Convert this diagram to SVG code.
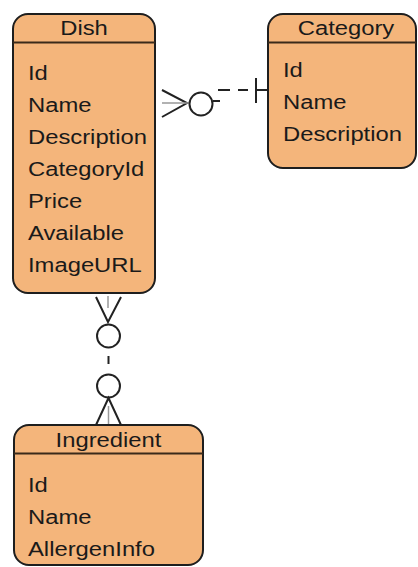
<svg xmlns="http://www.w3.org/2000/svg" width="418" height="567" viewBox="0 0 418 567">
  <style>
    .box { fill: #f4b57b; stroke: #1e1e1e; stroke-width: 2; }
    .sep { stroke: #3a2a1a; stroke-width: 2; }
    .t { font-family: "Liberation Sans", Arial, sans-serif; font-size: 20px; fill: #1a1a1a; }
    .title { text-anchor: middle; }
    .rel { fill: none; stroke: #222; stroke-width: 2; }
    .faint { fill: none; stroke: #999; stroke-width: 1.5; }
  </style>

  <!-- relationships -->
  <g id="connectors">
    <!-- Dish (many, optional) to Category (one) -->
    <path class="rel" d="M218,90 H230 M238,90 H248 M256,90 H268"/>
    <path class="rel" d="M256,78 V103"/>
    <path class="rel" d="M213,101 H220"/>
    <circle class="rel" cx="201" cy="104" r="11.5"/>
    <path class="rel" d="M162,90 L187,103 L162,117"/>
    <path class="faint" d="M162,103 H188"/>

    <!-- Dish (many, optional) to Ingredient (many, optional) -->
    <path class="rel" d="M96,297 L108,322 L121,297"/>
    <path class="faint" d="M108,296 V308"/>
    <circle class="rel" cx="108.5" cy="336" r="11.5"/>
    <path class="rel" d="M108.5,356 V364"/>
    <circle class="rel" cx="108.5" cy="386" r="11.5"/>
    <path class="rel" d="M96,425 L108.5,398 L121,425"/>
    <path class="faint" d="M108.5,406 V425"/>
  </g>

  <g id="dish">
    <rect class="box" x="13" y="14" width="142" height="279" rx="15" ry="15"/>
    <line class="sep" x1="13" y1="42.5" x2="155" y2="42.5"/>
    <g transform="translate(84,35) scale(1.19,1)"><text class="t title">Dish</text></g>
    <g transform="translate(28,0) scale(1.19,1)">
      <text class="t" y="80">Id</text>
      <text class="t" y="112">Name</text>
      <text class="t" y="144">Description</text>
      <text class="t" y="176">CategoryId</text>
      <text class="t" y="208">Price</text>
      <text class="t" y="240">Available</text>
      <text class="t" y="272">ImageURL</text>
    </g>
  </g>

  <g id="category">
    <rect class="box" x="268" y="14" width="148" height="154" rx="15" ry="15"/>
    <line class="sep" x1="268" y1="42.5" x2="416" y2="42.5"/>
    <g transform="translate(346,35) scale(1.19,1)"><text class="t title">Category</text></g>
    <g transform="translate(283,0) scale(1.19,1)">
      <text class="t" y="77">Id</text>
      <text class="t" y="109">Name</text>
      <text class="t" y="141">Description</text>
    </g>
  </g>

  <g id="ingredient">
    <rect class="box" x="14" y="425" width="189" height="140" rx="15" ry="15"/>
    <line class="sep" x1="14" y1="453.5" x2="203" y2="453.5"/>
    <g transform="translate(108.5,447) scale(1.19,1)"><text class="t title">Ingredient</text></g>
    <g transform="translate(28,0) scale(1.19,1)">
      <text class="t" y="492">Id</text>
      <text class="t" y="524">Name</text>
      <text class="t" y="556">AllergenInfo</text>
    </g>
  </g>
</svg>
